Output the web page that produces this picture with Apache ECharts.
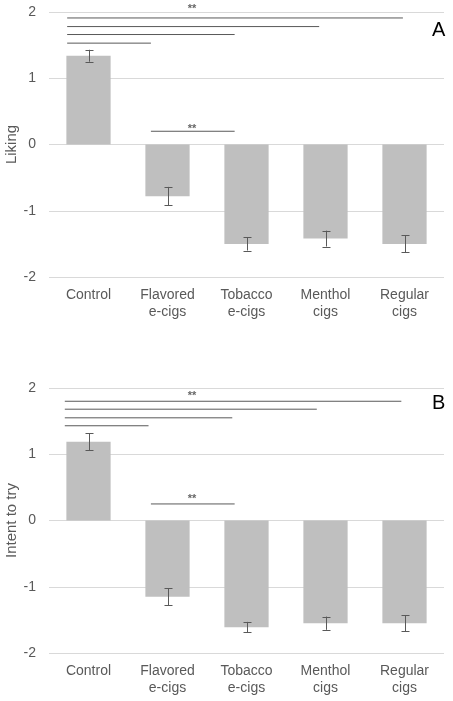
<!DOCTYPE html>
<html><head><meta charset="utf-8">
<script src="https://cdn.jsdelivr.net/npm/echarts@6/dist/echarts.min.js"></script>
<style>html,body{margin:0;padding:0;background:#fff}#c{width:453px;height:701px}</style>
</head><body><div id="c"></div>
<script>
const categories = ['Control','Flavored\ne-cigs','Tobacco\ne-cigs','Menthol\ncigs','Regular\ncigs'];
const yTicks = [-2,-1,0,1,2];
const likingMean = [1.34, -0.78, -1.50, -1.42, -1.50];
const likingErr  = [0.09, 0.14, 0.10, 0.12, 0.13];
const intentMean = [1.19, -1.15, -1.61, -1.55, -1.55];
const intentErr  = [0.13, 0.13, 0.08, 0.10, 0.12];
// significance lines: [xStart, xEnd, y] in category units
const likingSig = [[-0.27,0.79,1.53],[-0.27,1.85,1.66],[-0.27,2.92,1.78],[-0.27,3.98,1.91],[0.79,1.85,0.20]];
const likingStars = [[1.31,2.04],[1.31,0.24]];
const intentSig = [[-0.30,0.76,1.43],[-0.30,1.82,1.55],[-0.30,2.89,1.68],[-0.30,3.96,1.80],[0.79,1.85,0.25]];
const intentStars = [[1.31,1.88],[1.31,0.33]];

const FONT = 'Liberation Sans, Arial, sans-serif';
const TXT = '#595959';
const chart = echarts.init(document.getElementById('c'));

function errData(mean, err){ return mean.map((m,i)=>[i, m-err[i], m+err[i]]); }
function errSeries(g, mean, err){
  return {type:'custom', xAxisIndex:g*2, yAxisIndex:g, z:5, clip:false,
    data: errData(mean, err),
    renderItem:function(params, api){
      const lo = api.coord([api.value(0), api.value(1)]);
      const hi = api.coord([api.value(0), api.value(2)]);
      const x = Math.round(lo[0])+0.5, c=4;
      const st = {stroke:'#595959', lineWidth:1};
      return {type:'group', children:[
        {type:'line', shape:{x1:x,y1:lo[1],x2:x,y2:hi[1]}, style:st},
        {type:'line', shape:{x1:x-c,y1:Math.round(lo[1])+0.5,x2:x+c,y2:Math.round(lo[1])+0.5}, style:st},
        {type:'line', shape:{x1:x-c,y1:Math.round(hi[1])+0.5,x2:x+c,y2:Math.round(hi[1])+0.5}, style:st}
      ]};
    }};
}
function sigSeries(g, sig){
  return sig.map(s=>({type:'line', xAxisIndex:g*2+1, yAxisIndex:g, symbol:'none', silent:true, clip:false,
    lineStyle:{color:'#595959', width:1}, data:[[s[0],s[2]],[s[1],s[2]]], z:6}));
}
function starSeries(g, stars){
  return {type:'scatter', xAxisIndex:g*2+1, yAxisIndex:g, symbolSize:1, silent:true, clip:false,
    itemStyle:{color:'rgba(0,0,0,0)'}, data:stars,
    label:{show:true, position:'inside', formatter:'**', color:'#404040', fontSize:11, fontWeight:'bold', fontFamily:FONT}};
}
const grids = [
  {left:49, right:9, top:12, height:265, containLabel:false, outerBoundsMode:'none'},
  {left:49, right:9, top:388, height:265, containLabel:false, outerBoundsMode:'none'}
];
const names = ['Liking','Intent to try'];
const xAxes = [], yAxes = [];
[0,1].forEach(g=>{
  xAxes.push({type:'category', gridIndex:g, data:categories,
    axisLine:{show:false}, axisTick:{show:false},
    axisLabel:{color:TXT, fontSize:14, fontFamily:FONT, lineHeight:17, margin:10, interval:0}});
  xAxes.push({type:'value', gridIndex:g, min:-0.5, max:4.5, show:false});
  yAxes.push({type:'value', gridIndex:g, min:-2, max:2, interval:1,
    name:names[g], nameLocation:'middle', nameGap:30, nameRotate:90, nameMoveOverlap:false,
    nameTextStyle:{color:TXT, fontSize:15, fontFamily:FONT},
    axisLine:{show:false}, axisTick:{show:false},
    axisLabel:{color:TXT, fontSize:14, fontFamily:FONT, margin:13},
    splitLine:{lineStyle:{color:'#d9d9d9', width:1}}});
});
const series = [
  {type:'bar', xAxisIndex:0, yAxisIndex:0, data:likingMean, barWidth:'56%', itemStyle:{color:'#bfbfbf'}},
  errSeries(0, likingMean, likingErr),
  ...sigSeries(0, likingSig), starSeries(0, likingStars),
  {type:'bar', xAxisIndex:2, yAxisIndex:1, data:intentMean, barWidth:'56%', itemStyle:{color:'#bfbfbf'}},
  errSeries(1, intentMean, intentErr),
  ...sigSeries(1, intentSig), starSeries(1, intentStars)
];
chart.setOption({
  animation:false,
  textStyle:{fontFamily:FONT},
  title:[
    {text:'A', left:432, top:20, padding:0, textStyle:{fontSize:20, fontWeight:'normal', color:'#000', fontFamily:FONT}},
    {text:'B', left:432, top:393, padding:0, textStyle:{fontSize:20, fontWeight:'normal', color:'#000', fontFamily:FONT}}
  ],
  grid:grids, xAxis:xAxes, yAxis:yAxes, series:series
});
</script></body></html>
